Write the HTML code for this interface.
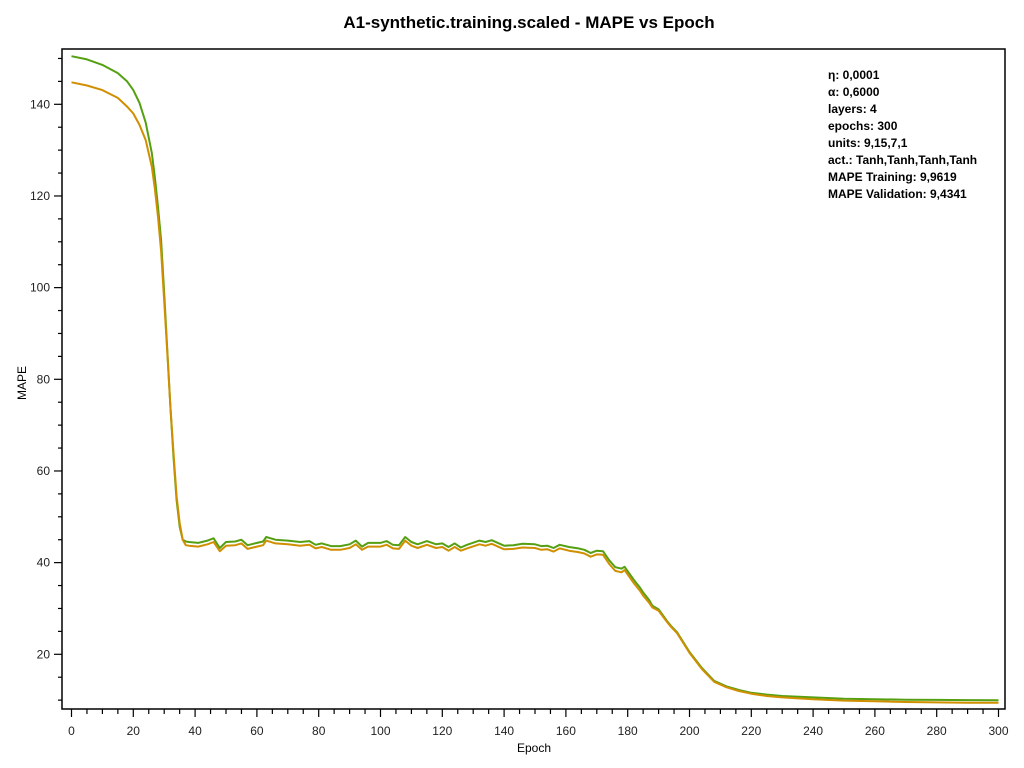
<!DOCTYPE html>
<html><head><meta charset="utf-8">
<style>
body{margin:0;background:#fff;font-family:"Liberation Sans",sans-serif;}
svg{display:block}
</style></head>
<body>
<svg id="chart" width="1024" height="768">
<text x="529" y="28" text-anchor="middle" font-size="17" font-weight="bold" fill="#000">A1-synthetic.training.scaled - MAPE vs Epoch</text>
<rect x="62" y="49" width="943" height="660" fill="none" stroke="#000" stroke-width="1.5"/>
<g id="axes"></g>
<g id="series"></g>
<text x="534" y="752" text-anchor="middle" font-size="12">Epoch</text>
<text transform="translate(26,383) rotate(-90)" text-anchor="middle" font-size="12">MAPE</text>
<g font-size="12" font-weight="bold">
<text x="828" y="79">η: 0,0001</text>
<text x="828" y="96">α: 0,6000</text>
<text x="828" y="113">layers: 4</text>
<text x="828" y="130">epochs: 300</text>
<text x="828" y="147">units: 9,15,7,1</text>
<text x="828" y="164">act.: Tanh,Tanh,Tanh,Tanh</text>
<text x="828" y="181">MAPE Training: 9,9619</text>
<text x="828" y="198">MAPE Validation: 9,4341</text>
</g>
</svg>
<script>
const epochs=[0,5,10,15,18,20,22,24,26,27,28,29,30,31,32,33,34,35,36,37,38,41,44,46,48,50,53,55,57,60,62,63,66,70,74,77,79,81,84,87,90,92,94,96,100,102,104,106,108,110,112,115,118,120,122,124,126,128,132,134,136,140,143,146,150,152,154,156,158,161,164,166,168,170,172,174,176,178,179,182,184,185,187,188,190,193,194,196,200,204,208,212,216,220,225,230,240,250,260,270,280,290,300];
const training=[150.5,149.8,148.6,146.8,145,143.1,140.3,136,129.4,124,117.6,110.4,98.8,86.4,74,63,53.6,47.8,45,44.6,44.5,44.3,44.8,45.3,43.2,44.5,44.6,45.0,43.8,44.3,44.6,45.6,45.0,44.8,44.5,44.7,43.9,44.2,43.6,43.6,44.0,44.8,43.5,44.3,44.3,44.7,43.9,43.8,45.6,44.5,44.0,44.7,44.0,44.2,43.4,44.2,43.3,43.9,44.8,44.5,44.9,43.7,43.8,44.1,44.0,43.6,43.7,43.2,43.9,43.4,43.1,42.8,42.1,42.6,42.5,40.5,39.0,38.7,39.1,36.2,34.5,33.5,31.8,30.6,29.8,27.0,26.2,24.8,20.5,17.0,14.2,13.0,12.2,11.6,11.2,10.9,10.6,10.3,10.2,10.1,10.05,10.0,9.96];
const validation=[144.8,144.1,143.1,141.4,139.5,138,135.5,132.2,126.4,121.5,115.4,108,97,85.8,74,64,54.5,48.6,45,43.8,43.7,43.5,44.0,44.5,42.5,43.7,43.8,44.2,43.0,43.5,43.8,44.8,44.2,44.0,43.7,43.9,43.1,43.4,42.8,42.8,43.2,44.0,42.8,43.5,43.5,43.9,43.1,43.0,44.8,43.7,43.2,43.9,43.2,43.4,42.6,43.4,42.6,43.1,44.0,43.7,44.1,42.9,43.0,43.3,43.2,42.8,42.9,42.4,43.1,42.6,42.3,42.0,41.3,41.8,41.7,39.7,38.2,37.9,38.4,35.5,33.8,32.8,31.2,30.2,29.5,26.8,26.0,24.6,20.3,16.8,14.0,12.8,12.0,11.4,10.9,10.6,10.2,9.9,9.75,9.6,9.5,9.45,9.43];
const xTicks=[0,20,40,60,80,100,120,140,160,180,200,220,240,260,280,300];
const yTicks=[20,40,60,80,100,120,140];

const NS="http://www.w3.org/2000/svg";
function xs(e){return 71.5+e*(998.5-71.5)/300;}
function ys(v){return 654.3-(v-20)*(654.3-104.3)/120;}
const axes=document.getElementById('axes');
function mk(tag,attrs,parent){const el=document.createElementNS(NS,tag);for(const k in attrs)el.setAttribute(k,attrs[k]);parent.appendChild(el);return el;}
for(let e=0;e<=300;e+=5){
  const major=e%20===0;
  const t=mk('line',{x1:xs(e),x2:xs(e),y1:709,y2:major?717:714,stroke:'#000','stroke-width':1.2},axes);
  
  
}
xTicks.forEach(v=>{
  const t=mk('text',{x:xs(v),y:735,'text-anchor':'middle','font-size':12,fill:'#222'},axes);
  t.textContent=v;
  
  
});
for(let v=10;v<=150;v+=5){
  const major=v%20===0;
  const t=mk('line',{x1:major?54:58,x2:62,y1:ys(v),y2:ys(v),stroke:'#000','stroke-width':1.2},axes);
  
  
}
yTicks.forEach(v=>{
  const t=mk('text',{x:50,y:ys(v)+4,'text-anchor':'end','font-size':12,fill:'#222'},axes);
  t.textContent=v;
  
  
});
const series=document.getElementById('series');
function draw(vals,color,name){
  const pts=epochs.map((e,i)=>xs(e).toFixed(1)+','+ys(vals[i]).toFixed(1)).join(' ');
  const p=mk('polyline',{points:pts,fill:'none',stroke:color,'stroke-width':2,'stroke-linejoin':'round'},series);
  
  
}
draw(training,'#55a012','training-line');
draw(validation,'#d08f00','validation-line');
</script>
</body></html>
